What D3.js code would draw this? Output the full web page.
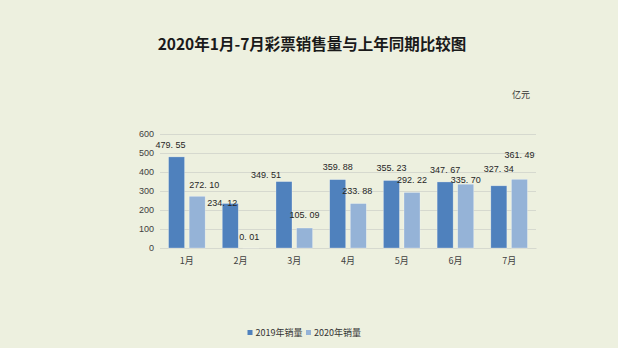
<!DOCTYPE html>
<html>
<head>
<meta charset="utf-8">
<script src="https://cdn.jsdelivr.net/npm/d3@7"></script>
<style>
  html, body { margin: 0; padding: 0; background: #edf0df; }
  svg { display: block; }
  text { font-family: "Liberation Sans", "Noto Sans CJK SC", sans-serif; fill: #333; }
</style>
</head>
<body>
<div id="chart"></div>
<script>
const months = ["1月", "2月", "3月", "4月", "5月", "6月", "7月"];
const seriesNames = ["2019年销量", "2020年销量"];
const sales2019 = [479.55, 234.12, 349.51, 359.88, 355.23, 347.67, 327.34];
const sales2020 = [272.1, 0.01, 105.09, 233.88, 292.22, 335.7, 361.49];
const yTicks = [0, 100, 200, 300, 400, 500, 600];

// label nudges as drawn in the original (dx px, gap above bar top px)
const labelDx = [[-6, -8, -18, 0, 0, 0, 0], [7, -1.5, 0, -1, 0, 0, 0]];
const labelGap = [[12.5, 1, 7, 13, 13, 12.5, 17], [11, 11, 13, 12.6, 12.5, 4, 24.6]];

const colors = ["#4f81bd", "#95b3d7"];
const width = 618, height = 348;
const margin = { top: 134, right: 82, bottom: 100, left: 160 };

const svg = d3.select("#chart").append("svg")
  .attr("width", width).attr("height", height)
  .attr("viewBox", [0, 0, width, height]);

svg.append("rect").attr("width", width).attr("height", height).attr("fill", "#edf0df");

const x = d3.scaleBand().domain(months)
  .range([margin.left, width - margin.right]);
const y = d3.scaleLinear().domain([0, 600])
  .range([height - margin.bottom, margin.top]);
const x1 = d3.scaleBand().domain(seriesNames)
  .range([x.bandwidth() / 2 - 18.3, x.bandwidth() / 2 + 18.3])
  .paddingInner(0.223);

// title
svg.append("text")
  .attr("x", 312).attr("y", 50)
  .attr("text-anchor", "middle")
  .style("font-family", "'Noto Sans CJK SC', sans-serif")
  .style("font-weight", "bold")
  .style("font-size", "15.5px")
  .style("fill", "#1a1a1a")
  .text("2020年1月-7月彩票销售量与上年同期比较图");

// unit
svg.append("text")
  .attr("x", 530).attr("y", 98)
  .attr("text-anchor", "end")
  .style("font-family", "'Noto Sans CJK SC', sans-serif")
  .style("font-size", "9px")
  .text("亿元");

// gridlines + y axis
const gy = svg.append("g")
  .attr("transform", `translate(${margin.left},0)`)
  .call(d3.axisLeft(y).tickValues(yTicks).tickSize(-(width - margin.left - margin.right)).tickPadding(6))
  .attr("font-family", null).attr("font-size", null);
gy.select(".domain").remove();
gy.selectAll(".tick line").attr("stroke", "#d6d9cf").attr("stroke-width", 1);
gy.selectAll(".tick text").style("font-size", "9px").style("fill", "#404040");

// x axis labels
const gx = svg.append("g")
  .attr("transform", `translate(0,${y(0)})`)
  .call(d3.axisBottom(x).tickSize(0).tickPadding(10))
  .attr("font-family", null).attr("font-size", null);
gx.select(".domain").attr("stroke", "#d6d9cf");
gx.selectAll(".tick text")
  .style("font-family", "'Noto Sans CJK SC', sans-serif")
  .style("font-size", "9px").style("fill", "#404040");

const series = [sales2019, sales2020];
const rows = series.flatMap((vals, s) => vals.map((v, i) => ({ s, i, v })));

svg.append("g").selectAll("rect")
  .data(rows)
  .join("rect")
  .attr("x", (d) => x(months[d.i]) + x1(seriesNames[d.s]))
  .attr("y", (d) => y(d.v))
  .attr("width", x1.bandwidth())
  .attr("height", (d) => y(0) - y(d.v))
  .attr("fill", (d) => colors[d.s])
  .attr("stroke", "rgba(255,255,255,0.45)")
  .attr("stroke-width", 0.6);

svg.append("g").selectAll("text")
  .data(rows)
  .join("text")
  .attr("x", (d) => x(months[d.i]) + x1(seriesNames[d.s]) + x1.bandwidth() / 2 + labelDx[d.s][d.i])
  .attr("y", (d) => y(d.v) - labelGap[d.s][d.i])
  .attr("dy", "0.35em")
  .attr("text-anchor", "middle")
  .style("font-size", "9px")
  .style("fill", "#262626")
  .text((d) => d3.format(".2f")(d.v).replace(".", ". "));

// legend
const legend = svg.append("g").attr("transform", "translate(247.5,333)");
const items = [0, 58.5];
seriesNames.forEach((name, s) => {
  const g = legend.append("g").attr("transform", `translate(${items[s]},0)`);
  g.append("rect").attr("x", 0).attr("y", -3).attr("width", 5).attr("height", 5).attr("fill", colors[s]);
  g.append("text").attr("x", 8).attr("y", 0).attr("dy", "0.35em")
    .style("font-family", "'Noto Sans CJK SC', sans-serif")
    .style("font-size", "9px").style("fill", "#333")
    .text(name);
});
</script>
</body>
</html>
